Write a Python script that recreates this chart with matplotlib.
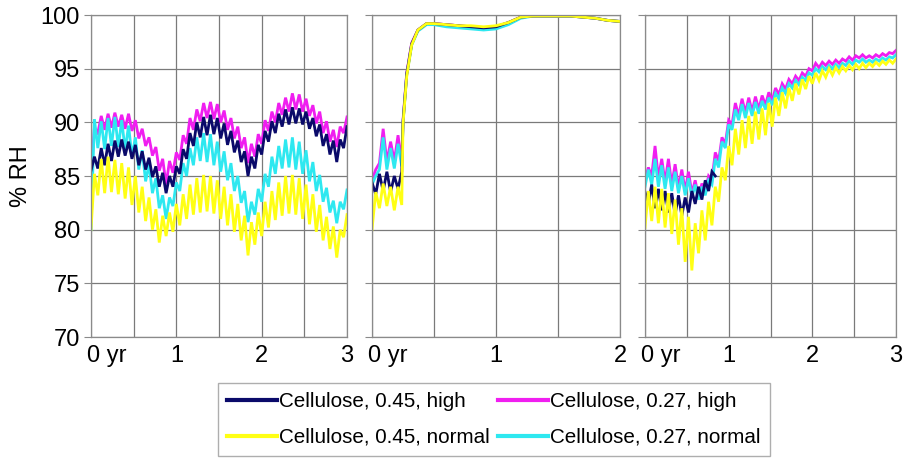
import matplotlib.pyplot as plt
import numpy as np
from matplotlib.ticker import MultipleLocator
import matplotlib.transforms as mtransforms

plt.rcParams['font.family'] = ['Liberation Sans', 'DejaVu Sans']

# sampling step (yr) for panels 1 and 3
STEP = 0.04

# ---- panel 1 : 0..3 yr
p1_magenta = [85.0, 89.5, 89.0, 90.6, 89.3, 90.8, 89.5, 90.9, 89.6, 90.7,
              89.4, 90.8, 89.2, 90.2, 88.5, 89.4, 87.8, 88.6, 86.9, 87.7,
              85.5, 86.6, 84.2, 86.4, 85.3, 87.2, 86.5, 88.8, 88.0, 90.4,
              89.3, 91.2, 90.1, 91.8, 90.4, 91.9, 90.3, 91.7, 90.0, 91.1,
              89.3, 90.4, 88.5, 89.6, 87.6, 88.6, 86.2, 88.0, 86.8, 88.9,
              88.0, 90.2, 89.2, 91.0, 90.0, 91.8, 90.7, 92.3, 91.0, 92.7,
              91.2, 92.6, 91.0, 92.2, 90.6, 91.6, 89.9, 91.0, 89.0, 90.1,
              88.2, 89.3, 87.7, 89.6, 89.0, 90.5]
p1_navy = [85.5, 86.8, 85.7, 87.6, 86.0, 88.0, 86.4, 88.3, 86.8, 88.4,
           86.9, 88.2, 86.6, 87.9, 86.0, 87.3, 85.6, 86.7, 84.9, 85.9,
           84.0, 85.3, 83.4, 85.0, 84.0, 85.9, 85.2, 87.5, 86.6, 89.0,
           87.8, 90.0, 88.6, 90.5, 88.8, 90.7, 88.9, 90.4, 88.5, 89.9,
           87.9, 89.2, 87.2, 88.3, 86.3, 87.3, 85.0, 86.8, 85.7, 87.9,
           87.0, 89.2, 88.2, 90.1, 89.0, 90.8, 89.6, 91.2, 89.8, 91.4,
           89.9, 91.3, 89.8, 91.0, 89.4, 90.4, 88.7, 89.8, 87.8, 88.9,
           87.0, 88.3, 86.3, 88.4, 87.6, 89.6]
p1_cyan = [80.0, 90.3, 87.6, 90.1, 87.5, 90.4, 87.8, 90.5, 87.7, 90.2,
           87.4, 89.7, 86.8, 88.6, 85.6, 87.4, 84.5, 86.1, 83.4, 84.8,
           82.0, 83.2, 81.0, 83.0, 82.2, 84.4, 83.6, 86.2, 85.0, 87.6,
           86.0, 88.6, 86.4, 89.0, 86.3, 88.9, 86.0, 88.2, 85.4, 87.3,
           84.6, 86.2, 83.6, 85.0, 82.5, 83.6, 80.7, 82.6, 81.4, 83.8,
           82.6, 85.2, 84.0, 86.8, 85.2, 87.8, 85.7, 88.4, 85.8, 88.6,
           85.6, 88.2, 85.2, 87.4, 84.5, 86.3, 83.6, 85.1, 82.6, 83.9,
           81.6, 82.7, 80.6, 82.6, 81.9, 83.7]
p1_yellow = [80.0, 85.2, 83.2, 86.6, 83.4, 86.8, 83.5, 86.5, 83.3, 86.2,
             82.9, 85.8, 82.3, 85.0, 81.6, 84.0, 80.8, 83.0, 80.0, 81.9,
             78.8, 81.3, 79.4, 81.6, 79.8, 82.4, 80.4, 83.3, 81.0, 84.2,
             81.4, 84.8, 81.6, 85.1, 81.7, 85.0, 81.5, 84.6, 81.0, 84.0,
             80.4, 83.3, 79.8, 82.4, 79.0, 81.3, 77.6, 80.7, 78.6, 81.6,
             79.4, 82.6, 80.2, 83.6, 80.9, 84.4, 81.3, 85.0, 81.5, 85.1,
             81.4, 84.8, 81.0, 84.2, 80.5, 83.3, 79.8, 82.3, 79.0, 81.2,
             78.2, 80.3, 77.4, 80.0, 79.3, 81.4]

# ---- panel 2 : 0..2 yr
p2_t = [0, .03, .06, .09, .12, .15, .18, .21, .24, .25, .28, .32, .37,
        .44, .50, .60, .70, .80, .90, 1.0, 1.1, 1.2, 1.3, 1.4, 1.5, 1.6,
        1.7, 1.8, 1.9, 2.0]
p2_magenta = [84.6, 85.6, 86.2, 89.4, 86.3, 88.2, 86.4, 88.8, 86.2, 90.2,
              94.6, 97.4, 98.6, 99.2, 99.2, 99.1, 99.0, 98.9, 98.8, 98.9,
              99.3, 99.8, 99.9, 99.9, 99.9, 99.9, 99.8, 99.7, 99.5, 99.4]
p2_navy = [84.4, 83.3, 85.2, 83.6, 85.4, 83.5, 85.0, 83.8, 85.4, 90.0,
           94.5, 97.3, 98.6, 99.2, 99.2, 99.1, 99.0, 98.9, 98.8, 98.9,
           99.3, 99.8, 99.9, 99.9, 99.9, 99.9, 99.8, 99.7, 99.5, 99.4]
p2_cyan = [84.2, 85.0, 85.6, 88.6, 85.6, 87.6, 85.7, 88.0, 85.9, 90.0,
           94.4, 97.2, 98.5, 99.1, 99.1, 98.9, 98.8, 98.7, 98.6, 98.7,
           99.1, 99.7, 99.9, 99.9, 99.9, 99.9, 99.8, 99.7, 99.5, 99.4]
p2_yellow = [80.0, 83.5, 82.0, 84.3, 82.2, 84.0, 81.8, 84.0, 82.3, 89.8,
             94.3, 97.2, 98.6, 99.2, 99.2, 99.1, 99.0, 99.0, 98.9, 99.0,
             99.3, 99.8, 99.9, 99.9, 99.9, 99.9, 99.8, 99.7, 99.5, 99.4]

# ---- panel 3 : 0..3 yr
p3_magenta = [84.6, 85.8, 85.0, 87.8, 84.8, 86.6, 84.4, 86.6, 84.2, 86.1,
              83.9, 85.6, 83.6, 85.4, 83.4, 84.6, 83.0, 84.3, 83.6, 85.0,
              84.6, 87.2, 86.4, 88.6, 88.0, 90.2, 89.8, 91.8, 90.6, 92.2,
              90.9, 92.3, 91.0, 92.4, 91.2, 92.5, 91.6, 92.8, 92.0, 93.2,
              92.6, 93.6, 93.1, 94.0, 93.6, 94.3, 93.9, 94.6, 94.3, 95.0,
              94.8, 95.5, 95.1, 95.6, 95.3, 95.7, 95.4, 95.8, 95.5, 95.9,
              95.7, 96.1, 95.8, 96.2, 96.0, 96.3, 96.0, 96.2, 96.0, 96.3,
              96.1, 96.4, 96.2, 96.5, 96.4, 96.7]
p3_navy = [83.5, 82.4, 84.2, 82.0, 83.8, 81.8, 83.6, 81.6, 83.4, 81.4,
           83.2, 81.3, 83.0, 81.6, 83.6, 82.4, 84.0, 82.8, 84.6, 83.6,
           85.4, 85.0]
p3_cyan = [84.0, 85.6, 84.2, 86.6, 84.0, 86.0, 83.8, 85.8, 83.6, 85.4,
           83.4, 85.0, 83.2, 84.8, 83.0, 84.2, 82.8, 84.0, 83.2, 84.6,
           84.2, 86.6, 85.8, 88.2, 87.6, 89.8, 89.3, 91.2, 90.2, 91.7,
           90.4, 91.8, 90.6, 91.9, 90.8, 92.0, 91.2, 92.3, 91.6, 92.7,
           92.2, 93.2, 92.7, 93.6, 93.2, 93.9, 93.5, 94.2, 93.9, 94.6,
           94.4, 95.0, 94.7, 95.2, 94.9, 95.3, 95.0, 95.4, 95.1, 95.5,
           95.3, 95.7, 95.4, 95.8, 95.6, 95.9, 95.6, 95.8, 95.6, 95.9,
           95.7, 96.0, 95.8, 96.1, 96.0, 96.3]
p3_yellow = [80.2, 83.6, 80.8, 84.0, 80.6, 83.8, 80.2, 83.4, 79.6, 82.8,
             78.6, 82.0, 77.0, 81.2, 76.2, 80.6, 77.8, 81.8, 79.0, 82.6,
             80.4, 84.0, 82.6, 85.8, 84.6, 87.8, 86.0, 89.4, 87.0, 90.2,
             87.6, 90.6, 88.0, 91.0, 88.4, 91.3, 88.8, 91.8, 89.6, 92.3,
             90.6, 92.8, 91.3, 93.2, 92.0, 93.6, 92.6, 94.0, 93.1, 94.3,
             93.6, 94.6, 93.9, 94.8, 94.2, 95.0, 94.4, 95.1, 94.6, 95.2,
             94.8, 95.3, 94.9, 95.4, 95.0, 95.5, 95.1, 95.5, 95.2, 95.6,
             95.3, 95.7, 95.4, 95.8, 95.5, 95.9]

labels = {'navy': 'Cellulose, 0.45, high', 'magenta': 'Cellulose, 0.27, high',
          'yellow': 'Cellulose, 0.45, normal', 'cyan': 'Cellulose, 0.27, normal'}
colors = {'navy': '#0a0a6a', 'magenta': '#f01ef0',
          'yellow': '#ffff14', 'cyan': '#2ee8f0'}
order = ['magenta', 'cyan', 'navy', 'yellow']

panels = [
    (None, {'magenta': p1_magenta, 'cyan': p1_cyan, 'navy': p1_navy, 'yellow': p1_yellow}, 3),
    (p2_t, {'magenta': p2_magenta, 'cyan': p2_cyan, 'navy': p2_navy, 'yellow': p2_yellow}, 2),
    (None, {'magenta': p3_magenta, 'cyan': p3_cyan, 'navy': p3_navy, 'yellow': p3_yellow}, 3),
]

W, H = 915, 461
fig = plt.figure(figsize=(W / 100, H / 100), dpi=100)
boxes = [(91, 347), (372, 620), (645, 896)]
top, bottom = 15, 337

handles = {}
for k, ((l, r), (tx, series, tmax)) in enumerate(zip(boxes, panels)):
    ax = fig.add_axes([l / W, (H - bottom) / H, (r - l) / W, (bottom - top) / H])
    for name in order:
        y = series[name]
        x = tx if tx is not None else np.arange(len(y)) * STEP
        ln, = ax.plot(x, y, color=colors[name], lw=2.0, solid_joinstyle='miter')
        handles[name] = ln
    ax.set_xlim(0, tmax)
    ax.set_ylim(70, 100)
    ax.xaxis.set_major_locator(MultipleLocator(1))
    ax.xaxis.set_minor_locator(MultipleLocator(0.5))
    ax.yaxis.set_major_locator(MultipleLocator(5))
    ax.grid(True, which='both', axis='x', color='#7a7a7a', lw=0.9)
    ax.grid(True, which='major', axis='y', color='#7a7a7a', lw=0.9)
    ax.set_axisbelow(True)
    for s in ax.spines.values():
        s.set_color('#8a8a8a')
        s.set_linewidth(0.9)
    xt = ['0 yr'] + [str(i) for i in range(1, tmax + 1)]
    ax.set_xticks(range(tmax + 1))
    ax.set_xticklabels(xt, fontsize=17)
    ax.tick_params(axis='x', which='both', length=0, pad=6)
    ax.tick_params(axis='y', length=5, color='#8a8a8a', labelsize=17, pad=3)
    first = ax.get_xticklabels()[0]
    first.set_horizontalalignment('left')
    first.set_transform(first.get_transform() +
                        mtransforms.ScaledTranslation(-4 / 100, 0, fig.dpi_scale_trans))
    if k == 0:
        ax.set_ylabel('% RH', fontsize=17, labelpad=6)
    else:
        ax.set_yticklabels([])

leg_order = ['navy', 'yellow', 'magenta', 'cyan']
leg = fig.legend([handles[n] for n in leg_order], [labels[n] for n in leg_order],
                 ncol=2, loc='upper left', bbox_to_anchor=(218 / W, 1 - 383 / H),
                 fontsize=14.9, frameon=True, fancybox=False, edgecolor='#9a9a9a',
                 handlelength=2.4, handletextpad=0.1, columnspacing=0.42,
                 labelspacing=0.8, borderpad=0.45, borderaxespad=0)
for h in leg.get_lines():
    h.set_linewidth(3)
leg.get_frame().set_linewidth(1.0)

fig.savefig('out.png', dpi=100)
